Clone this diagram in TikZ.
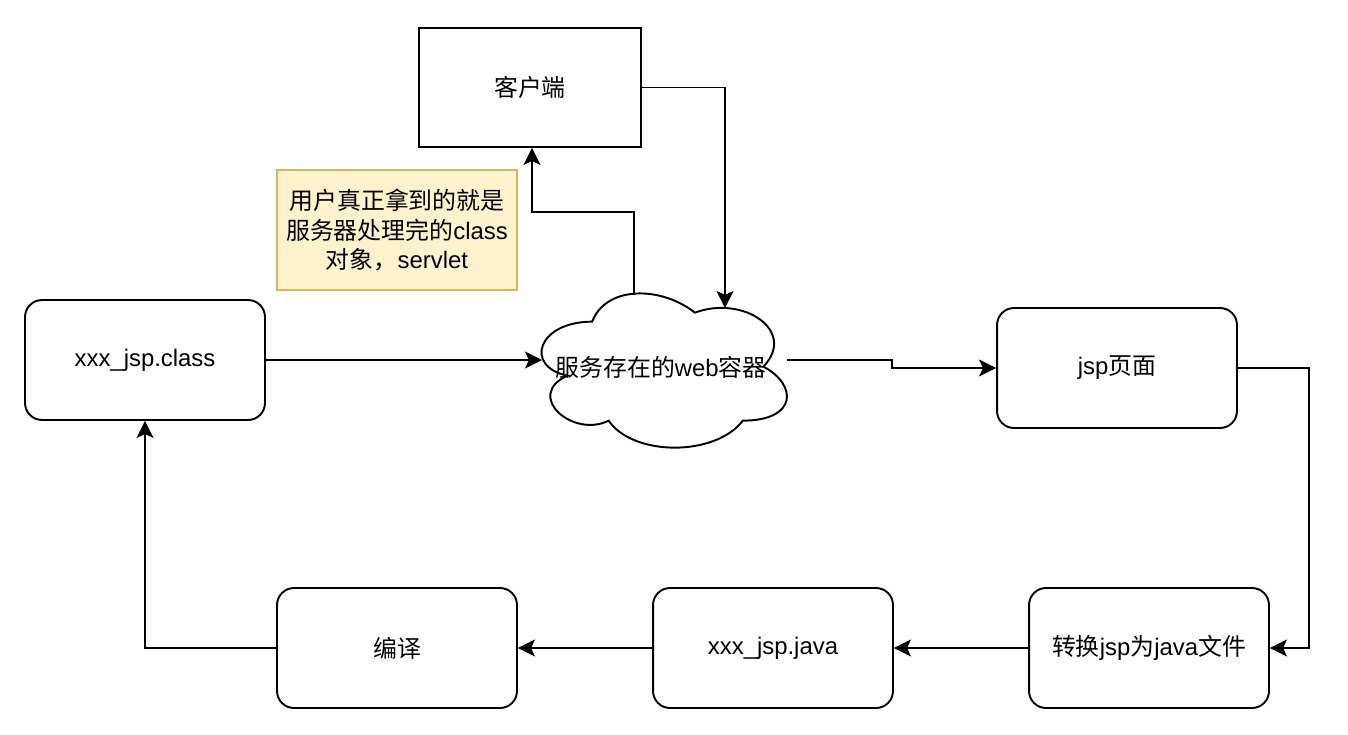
\documentclass[tikz,border=0pt]{standalone}
\usepackage{fontspec}
\setmainfont{Liberation Sans}
\newfontfamily\cjk{Noto Sans CJK SC}
\usetikzlibrary{arrows.meta,calc}
\definecolor{notefill}{HTML}{FFF2CC}
\definecolor{noteline}{HTML}{D6B656}
\tikzset{
  txt/.style={font=\fontsize{13.6pt}{17pt}\selectfont, align=center},
  stepbox/.style={txt, draw, line width=1.1pt, rounded corners=0.34cm,
    minimum width=4.8cm, minimum height=2.4cm, inner sep=0pt},
  plainbox/.style={txt, draw, line width=1.1pt,
    minimum width=4.44cm, minimum height=2.38cm, inner sep=0pt},
  notebox/.style={txt, draw=noteline, fill=notefill, line width=0.8pt,
    minimum width=4.8cm, minimum height=2.4cm, inner sep=0pt},
  flow/.style={->, line width=1.1pt}
}

\begin{document}
\begin{tikzpicture}[x=0.02cm, y=-0.02cm,
  >={Stealth[length=0.34cm, width=0.34cm, inset=0.08cm]}]
\useasboundingbox (0,0) rectangle (1348,734);

% --- Top ---
\node[plainbox] (client) at (530,87.5) {{\cjk 客户端}};
\node[notebox] (note) at (397,230) {{\cjk 用户真正拿到的就是}\\{\cjk 服务器处理完的}class\\{\cjk 对象，}servlet};

% --- Web container (cloud) ---
\node[txt, minimum width=5.48cm, minimum height=3.6cm, inner sep=0pt] (web) at (661,367) {{\cjk 服务存在的}web{\cjk 容器}};
\begin{scope}[shift={(web.north west)}, x=5.48cm, y=-3.6cm]
  \draw[line width=1.1pt] (0.25,0.25) .. controls (0.05,0.25) and (0,0.5) .. (0.16,0.55)
    .. controls (0,0.66) and (0.18,0.9) .. (0.31,0.8)
    .. controls (0.4,1) and (0.7,1) .. (0.8,0.8)
    .. controls (1,0.8) and (1,0.6) .. (0.875,0.5)
    .. controls (1,0.3) and (0.8,0.1) .. (0.625,0.2)
    .. controls (0.5,0.05) and (0.3,0.05) .. (0.25,0.25) -- cycle;
\end{scope}
\coordinate (webin) at (725,308);
\coordinate (webout) at (634,295);
\coordinate (webleft) at (542,360);
\coordinate (webright) at (787,360);
\coordinate (turn) at (532,212);

% --- Steps ---
\node[stepbox] (class) at (145,360) {xxx\_jsp.class};
\node[stepbox] (jsp) at (1117,368) {jsp{\cjk 页面}};
\node[stepbox] (conv) at (1149,648) {{\cjk 转换}jsp{\cjk 为}java{\cjk 文件}};
\node[stepbox] (java) at (773,648) {xxx\_jsp.java};
\node[stepbox] (compile) at (397,648) {{\cjk 编译}};

% --- Connectors ---
\draw[flow] (client.east) -| (webin);
\draw[flow] (webout) |- (turn) -- (turn |- client.south);
\draw[flow] (class.east) -- (webleft);
\draw[flow] (webright) -- ++(105,0) |- (jsp.west);
\draw[flow] (jsp.east) -- ++(71,0) |- (conv.east);
\draw[flow] (conv.west) -- (java.east);
\draw[flow] (java.west) -- (compile.east);
\draw[flow] (compile.west) -| (class.south);

\end{tikzpicture}
\end{document}
